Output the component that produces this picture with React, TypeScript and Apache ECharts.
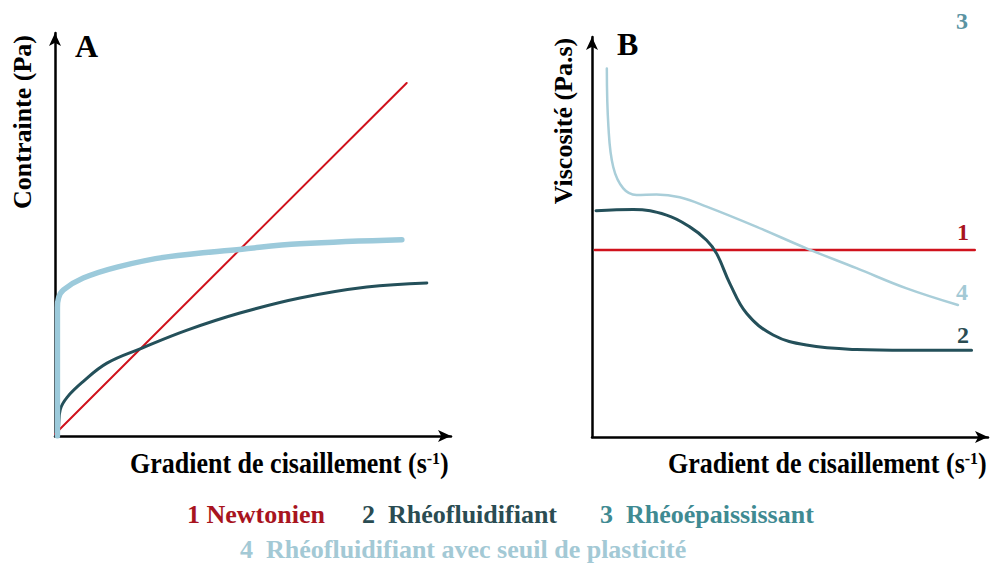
import React, { useEffect, useRef } from "react";
import * as echarts from "echarts";

// Panel A: stress vs shear rate
const newtonA: [number, number][] = [[0, 0.5], [87.3, 86.7]];
const shearThinA: [number, number][] = [
  [0.3, 0], [0.8, 1.5], [1.3, 6.5], [3.0, 9.5], [6.9, 13.3], [12.9, 17.9], [21.6, 21.6],
  [32.8, 26.0], [45.9, 30.2], [60.8, 33.9], [77.4, 36.6], [92.3, 37.6],
];
const binghamA: [number, number][] = [
  [0.6, 0], [0.6, 20], [0.6, 31.5], [0.9, 34.0], [2.1, 35.9], [7.0, 38.8], [15.4, 41.5],
  [27.8, 44.0], [46.4, 45.9], [60.8, 47.2], [86.1, 48.2],
];
// Panel B: viscosity vs shear rate
const newtonB: [number, number][] = [[0.7, 46.2], [95.5, 46.2]];
const shearThinB: [number, number][] = [
  [1.0, 55.9], [10.3, 56.2], [18.6, 54.8], [24.4, 51.9], [28.6, 48.6], [31.1, 45.3],
  [34.4, 37.9], [38.6, 30.5], [45.2, 25.2], [53.5, 22.7], [66.0, 21.6], [78.5, 21.4], [94.7, 21.4],
];
const binghamB: [number, number][] = [
  [3.7, 91.0], [4.1, 76.6], [5.3, 66.7], [7.8, 61.4], [11.1, 59.8], [16.1, 59.9],
  [21.9, 59.2], [28.6, 56.9], [41.1, 51.9], [53.5, 46.6], [66.0, 41.7], [78.5, 36.7], [91.3, 32.6],
];

const panelLabels = ["A", "B"];
const yTitles = ["Contrainte (Pa)", "Viscosité (Pa.s)"];
const xTitle = "Gradient de cisaillement (s";
const curveNumbers = ["1", "2", "3", "4"];
const legendNames = ["Newtonien", "Rhéofluidifiant", "Rhéoépaississant", "Rhéofluidifiant avec seuil de plasticité"];

const RED = "#d0121c";
const RED_TXT = "#a8141e";
const DARK = "#24505a";
const DARK_TXT = "#2a4c52";
const TEAL_TXT = "#3f8a92";
const LIGHT_A = "#9ccadb";
const LIGHT_B = "#a9ced9";
const LIGHT_TXT = "#a3c9d5";
const FONT = "Liberation Serif";

export default function App() {
  const ref = useRef<HTMLDivElement>(null);
  useEffect(() => {
    if (!ref.current) return;
    const chart = echarts.init(ref.current, null, { renderer: "svg" });
    const axisLine = {
      show: true,
      symbol: ["none", "arrow"],
      symbolSize: [9, 13],
      lineStyle: { color: "#000", width: 2.5 },
    };
    const axisCommon = {
      type: "value" as const,
      min: 0,
      axisLine,
      axisTick: { show: false },
      axisLabel: { show: false },
      splitLine: { show: false },
    };
    const lineSeries = (data: [number, number][], xi: number, color: string, width: number, smooth: number | boolean) => ({
      type: "line",
      xAxisIndex: xi,
      yAxisIndex: xi,
      data,
      smooth,
      symbol: "none",
      lineStyle: { color, width, cap: "round" },
      silent: true,
    });
    const txt = (text: string, x: number, y: number, color: string, size: number, align = "left", rotation = 0) => ({
      type: "text",
      x,
      y,
      rotation,
      style: {
        text,
        fill: color,
        fontFamily: FONT,
        fontWeight: "bold",
        fontSize: size,
        align,
        verticalAlign: "middle",
      },
    });
    const xTitleEl = (x: number) => ({
      type: "text",
      x,
      y: 464,
      scaleY: 1.1,
      style: {
        text: `{m|${xTitle}}{s|-1}{m|)}`,
        align: "left",
        verticalAlign: "middle",
        rich: {
          m: { fontFamily: FONT, fontWeight: "bold", fontSize: 26, fill: "#000", verticalAlign: "bottom" },
          s: { fontFamily: FONT, fontWeight: "bold", fontSize: 16, fill: "#000", verticalAlign: "top" },
        },
      },
    });
    chart.setOption({
      animation: false,
      backgroundColor: "#fff",
      grid: [
        { left: 55, top: 33, width: 396, height: 403 },
        { left: 592, top: 37, width: 396, height: 400 },
      ],
      xAxis: [
        { ...axisCommon, max: 98.3, gridIndex: 0 },
        { ...axisCommon, max: 98.8, gridIndex: 1 },
      ],
      yAxis: [
        { ...axisCommon, max: 99, gridIndex: 0 },
        { ...axisCommon, max: 98.8, gridIndex: 1 },
      ],
      series: [
        lineSeries(newtonA, 0, RED, 2, false),
        lineSeries(shearThinA, 0, DARK, 3, 0.4),
        lineSeries(binghamA, 0, LIGHT_A, 5.5, 0.4),
        lineSeries(newtonB, 1, RED, 2.5, false),
        lineSeries(shearThinB, 1, DARK, 3, 0.4),
        lineSeries(binghamB, 1, LIGHT_B, 2.5, 0.4),
      ],
      graphic: [
        txt(panelLabels[0], 75, 46, "#000", 32),
        txt(panelLabels[1], 617, 44, "#000", 32),
        txt(yTitles[0], 22, 122, "#000", 26, "center", Math.PI / 2),
        txt(yTitles[1], 563, 121, "#000", 26, "center", Math.PI / 2),
        xTitleEl(130),
        xTitleEl(668),
        txt(curveNumbers[0], 963, 232, RED_TXT, 24, "center"),
        txt(curveNumbers[3], 962, 292, LIGHT_TXT, 24, "center"),
        txt(curveNumbers[1], 963, 335, DARK_TXT, 24, "center"),
        txt(curveNumbers[2], 962, 21, "#5a93a2", 24, "center"),
        txt(`${curveNumbers[0]} ${legendNames[0]}`, 187, 514, RED_TXT, 26),
        txt(`${curveNumbers[1]}  ${legendNames[1]}`, 362, 514, DARK_TXT, 26),
        txt(`${curveNumbers[2]}  ${legendNames[2]}`, 600, 514, TEAL_TXT, 26),
        txt(`${curveNumbers[3]}  ${legendNames[3]}`, 240, 549, LIGHT_TXT, 26),
      ],
    });
    return () => chart.dispose();
  }, []);
  return <div ref={ref} style={{ width: 995, height: 575, position: "absolute", left: 0, top: 0 }} />;
}
